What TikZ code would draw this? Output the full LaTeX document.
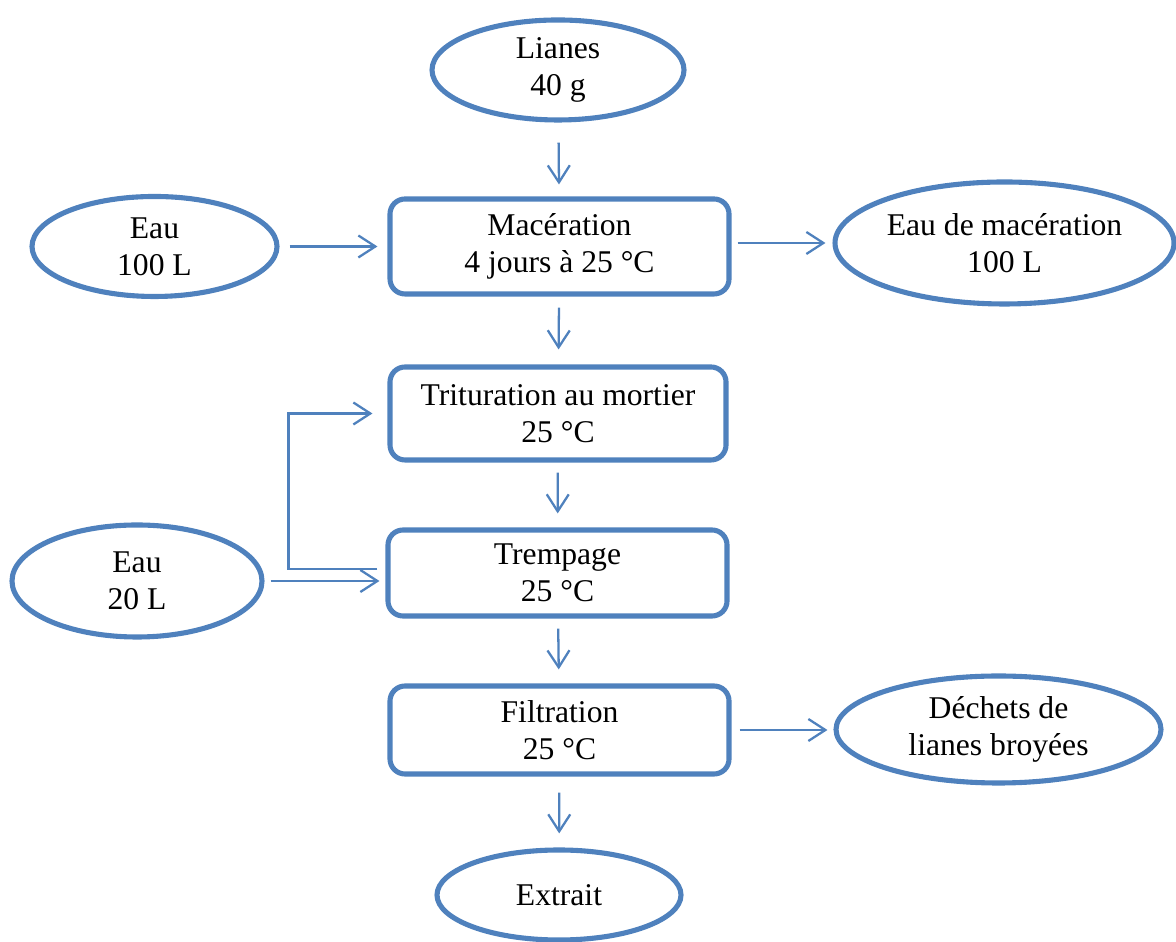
\documentclass[tikz,border=0pt]{standalone}
\usepackage{fontspec}
\setmainfont{Liberation Serif}
\usetikzlibrary{shapes.geometric,arrows.meta}
\definecolor{flowblue}{RGB}{79,129,189}

\begin{document}
\begin{tikzpicture}[
    myinput/.style={ellipse, draw=flowblue, line width=1.45pt, align=center, inner sep=0pt},
    mystep/.style={rectangle, rounded corners=0.15cm, draw=flowblue, line width=1.45pt,
        align=center, inner sep=0pt, minimum width=3.39cm},
    myflow/.style={draw=flowblue, line width=0.65pt,
        -{Straight Barb[length=0.17cm, width=0.22cm]}},
    every node/.style={font=\fontsize{9}{10.6}\selectfont}
]
    \useasboundingbox (0, 0) rectangle (11.76, 9.42);

    % main line
    \node[myinput, minimum width=2.52cm, minimum height=1.0cm] (lianes) at (5.58, 8.72) {Lianes\\40 g};
    \node[mystep, minimum height=0.95cm] (macer) at (5.595, 6.955) {Macération\\4 jours à 25 °C};
    \node[mystep, minimum width=3.36cm, minimum height=0.93cm] (trit) at (5.58, 5.285) {Trituration au mortier\\25 °C};
    \node[mystep, minimum height=0.86cm] (tremp) at (5.575, 3.69) {Trempage\\25 °C};
    \node[mystep, minimum height=0.88cm] (filt) at (5.595, 2.12) {Filtration\\25 °C};
    \node[myinput, minimum width=2.44cm, minimum height=0.9cm] (extrait) at (5.59, 0.47) {Extrait};

    % side inputs and outputs
    \node[myinput, minimum width=2.45cm, minimum height=1.0cm] (eau1) at (1.545, 6.955) {Eau\\100 L};
    \node[myinput, minimum width=3.39cm, minimum height=1.22cm] (eaumac) at (10.045, 6.99) {Eau de macération\\100 L};
    \node[myinput, minimum width=2.5cm, minimum height=1.12cm] (eau2) at (1.37, 3.61) {Eau\\20 L};
    \node[myinput, minimum width=3.25cm, minimum height=1.07cm] (dechets) at (9.985, 2.125) {Déchets de\\lianes broyées};

    % vertical arrows
    \draw[myflow, shorten <=0.2cm, shorten >=0.12cm] (lianes) -- (macer);
    \draw[myflow, shorten <=0.11cm, shorten >=0.15cm] (macer) -- (trit);
    \draw[myflow, shorten <=0.1cm, shorten >=0.14cm] (trit) -- (tremp);
    \draw[myflow, shorten <=0.1cm, shorten >=0.14cm] (tremp) -- (filt);
    \draw[myflow, shorten <=0.16cm, shorten >=0.14cm] (filt) -- (extrait);

    % horizontal arrows
    \draw[myflow, shorten <=0.1cm, shorten >=0.1cm] (eau1.east) -- (eau1.east -| macer.west);
    \draw[myflow, shorten <=0.06cm, shorten >=0.07cm] (macer.east |- eaumac.west) -- (eaumac.west);
    \draw[myflow, shorten <=0.06cm, shorten >=0.06cm] (eau2.east) -- (eau2.east -| tremp.west);
    \draw[myflow, shorten <=0.08cm, shorten >=0.06cm] (filt.east) -- (filt.east -| dechets.west);

    % water back to trituration
    \draw[myflow, shorten >=0.15cm] ([xshift=-0.08cm, yshift=0.04cm]tremp.west) -- ++(-0.89, 0) |- (trit.west);
\end{tikzpicture}
\end{document}
